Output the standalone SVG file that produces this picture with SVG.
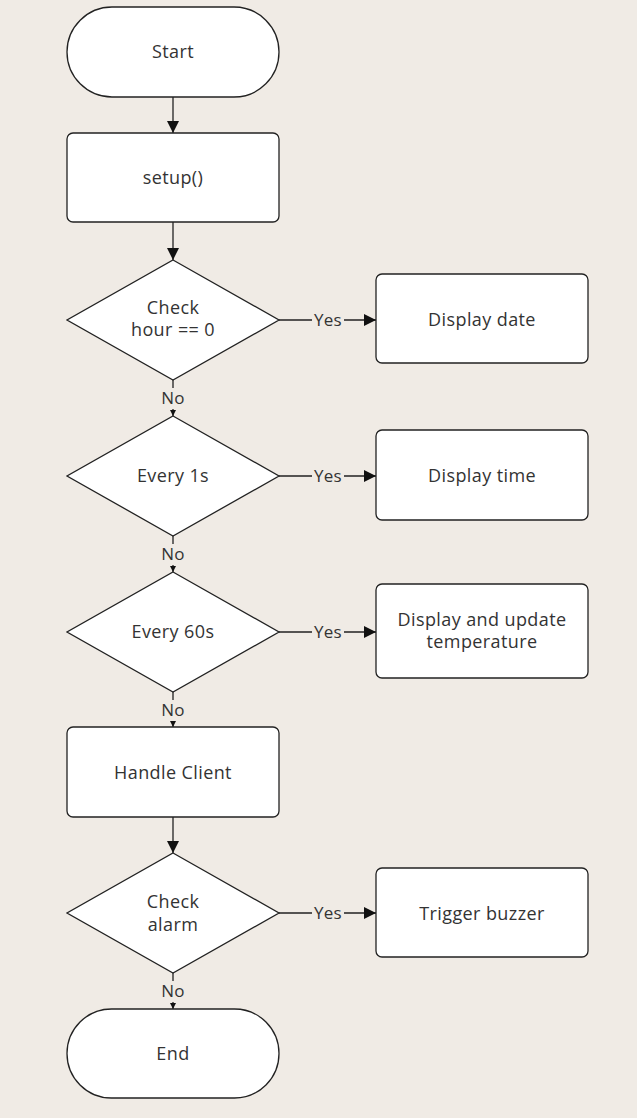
<svg xmlns="http://www.w3.org/2000/svg" width="637" height="1118" viewBox="0 0 637 1118">
<defs>
<style>
.n{fill:#fff;stroke:#222;stroke-width:1.3}
.t{font-family:"Open Sans","Liberation Sans",sans-serif;font-size:18px;letter-spacing:0.4px;fill:#333;text-anchor:middle;dominant-baseline:central}
.l{font-family:"Open Sans","Liberation Sans",sans-serif;font-size:17px;letter-spacing:0.3px;fill:#333;text-anchor:middle;dominant-baseline:central}
.c{fill:none;stroke:#222;stroke-width:1.3}
</style>
<marker id="a" viewBox="0 0 10 10" refX="10" refY="5" markerWidth="12" markerHeight="12" markerUnits="userSpaceOnUse" orient="auto"><path d="M0,0L10,5L0,10z" fill="#111"/></marker>
<marker id="s" viewBox="0 0 10 10" refX="10" refY="5" markerWidth="6" markerHeight="6" markerUnits="userSpaceOnUse" orient="auto"><path d="M0,0L10,5L0,10z" fill="#111"/></marker>
</defs>
<rect width="637" height="1118" fill="#f0ebe5"/>
<g id="connectors">
<path class="c" d="M173,97V133" marker-end="url(#a)"/>
<path class="c" d="M173,222V260" marker-end="url(#a)"/>
<path class="c" d="M279,320H312M344,320H376" marker-end="url(#a)"/>
<text class="l" x="328" y="319">Yes</text>
<path class="c" d="M173,380V388M173,409V416" marker-end="url(#s)"/>
<text class="l" x="173" y="397">No</text>
<path class="c" d="M279,476H312M344,476H376" marker-end="url(#a)"/>
<text class="l" x="328" y="475">Yes</text>
<path class="c" d="M173,536V544M173,565V572" marker-end="url(#s)"/>
<text class="l" x="173" y="553">No</text>
<path class="c" d="M279,632H312M344,632H376" marker-end="url(#a)"/>
<text class="l" x="328" y="631">Yes</text>
<path class="c" d="M173,692V700M173,721V727" marker-end="url(#s)"/>
<text class="l" x="173" y="709">No</text>
<path class="c" d="M173,817V853" marker-end="url(#a)"/>
<path class="c" d="M279,913H312M344,913H376" marker-end="url(#a)"/>
<text class="l" x="328" y="912">Yes</text>
<path class="c" d="M173,973V981M173,1002V1009" marker-end="url(#s)"/>
<text class="l" x="173" y="990">No</text>
</g>
<g id="start"><rect class="n" x="67" y="7" width="212" height="90" rx="45"/><text class="t" x="173" y="51">Start</text></g>
<g id="setup"><rect class="n" x="67" y="133" width="212" height="89" rx="6"/><text class="t" x="173" y="177">setup()</text></g>
<g id="d1"><path class="n" d="M173,260L279,320L173,380L67,320z"/><text class="t" x="173" y="307">Check</text><text class="t" x="173" y="329">hour == 0</text></g>
<g id="date"><rect class="n" x="376" y="274" width="212" height="89" rx="6"/><text class="t" x="482" y="319">Display date</text></g>
<g id="d2"><path class="n" d="M173,416L279,476L173,536L67,476z"/><text class="t" x="173" y="475">Every 1s</text></g>
<g id="time"><rect class="n" x="376" y="430" width="212" height="90" rx="6"/><text class="t" x="482" y="475">Display time</text></g>
<g id="d3"><path class="n" d="M173,572L279,632L173,692L67,632z"/><text class="t" x="173" y="631">Every 60s</text></g>
<g id="temp"><rect class="n" x="376" y="584" width="212" height="94" rx="6"/><text class="t" x="482" y="619">Display and update</text><text class="t" x="482" y="641">temperature</text></g>
<g id="client"><rect class="n" x="67" y="727" width="212" height="90" rx="6"/><text class="t" x="173" y="772">Handle Client</text></g>
<g id="d4"><path class="n" d="M173,853L279,913L173,973L67,913z"/><text class="t" x="173" y="901">Check</text><text class="t" x="173" y="924">alarm</text></g>
<g id="buzzer"><rect class="n" x="376" y="868" width="212" height="89" rx="6"/><text class="t" x="482" y="913">Trigger buzzer</text></g>
<g id="end"><rect class="n" x="67" y="1009" width="212" height="89" rx="44.5"/><text class="t" x="173" y="1053">End</text></g>
</svg>
